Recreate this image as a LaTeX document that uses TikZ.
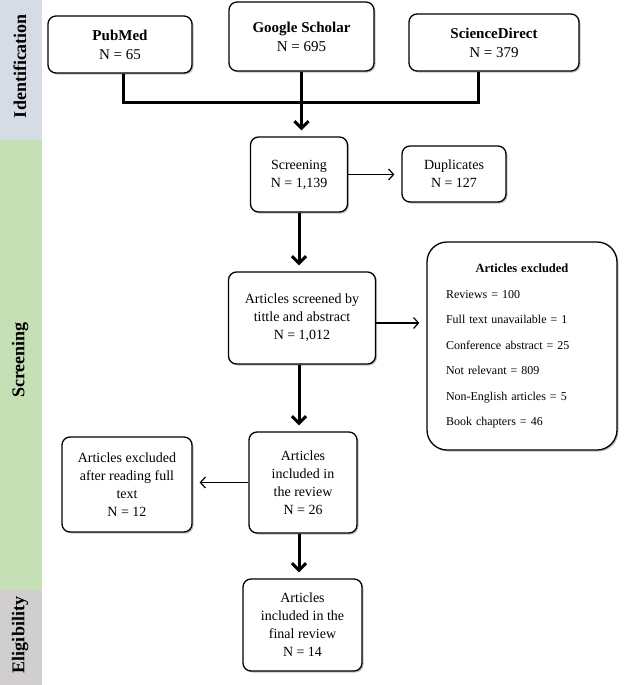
\documentclass[tikz,border=0pt]{standalone}
\usepackage{fontspec}
\setmainfont{Liberation Serif}
\usetikzlibrary{arrows.meta,shadows}

\definecolor{idblue}{RGB}{214,220,229}
\definecolor{scrgreen}{RGB}{197,224,180}
\definecolor{eliggray}{RGB}{208,206,206}

\begin{document}
\begin{tikzpicture}[x=1pt, y=-1pt,
    box/.style={draw, line width=1.3pt, rounded corners=8pt, fill=white,
      align=center, inner sep=2pt, font=\fontsize{14}{18}\selectfont,
      drop shadow={shadow xshift=1.5pt, shadow yshift=-1.5pt, opacity=0.5}},
    srcbox/.style={box, font=\fontsize{15}{19}\selectfont},
    trunk/.style={line width=3pt},
    thickarr/.style={line width=3pt, shorten >=6pt,
      -{Straight Barb[length=7pt,width=14pt]}},
    thinarr/.style={line width=1.2pt, shorten >=7pt,
      -{Straight Barb[length=5pt,width=11pt]}},
    band/.style={font=\fontsize{18}{20}\selectfont\bfseries, rotate=90}]
  \useasboundingbox (0,0) rectangle (625,685);

  % side bands
  \fill[idblue] (0,0) rectangle (42,140);
  \fill[scrgreen] (0,140) rectangle (42,590);
  \fill[eliggray] (0,590) rectangle (42,685);
  \node[band] (lid) at (20,66) {Identification};
  \node[band] (lscr) at (20,360) {Screening};
  \node[band] (lelig) at (20,635) {Eligibility};

  % sources
  \node[srcbox, minimum width=144pt, minimum height=57pt] (pub) at (120,44.5)
        {\textbf{PubMed}\\N = 65};
  \node[srcbox, minimum width=145pt, minimum height=69pt] (gs) at (301.5,36.5)
        {\textbf{Google Scholar}\\N = 695};
  \node[srcbox, minimum width=170pt, minimum height=57pt] (sci) at (494,42.5)
        {\textbf{ScienceDirect}\\N = 379};

  % screening column
  \node[box, minimum width=97pt, minimum height=75pt] (scr) at (299,174.5)
        {Screening\\N = 1,139};
  \node[box, minimum width=104pt, minimum height=56pt] (dup) at (454,174)
        {Duplicates\\N = 127};
  \node[box, minimum width=147pt, minimum height=92pt] (scrd) at (302,318)
        {Articles screened by\\tittle and abstract\\N = 1,012};
  \node[box, rounded corners=20pt, minimum width=190pt, minimum height=208pt,
        text width=152pt, align=left, inner sep=0pt,
        font=\fontsize{12}{25.5}\selectfont] (exc) at (522,346)
        {\makebox[\linewidth]{\fontsize{12.5}{15}\selectfont\textbf{Articles excluded}}\\
         Reviews = 100\\
         Full text unavailable = 1\\
         Conference abstract = 25\\
         Not relevant = 809\\
         Non-English articles = 5\\
         Book chapters = 46};
  \node[box, minimum width=108pt, minimum height=101pt] (inc) at (303,482.5)
        {Articles\\included in\\the review\\N = 26};
  \node[box, minimum width=130pt, minimum height=95pt] (full) at (127,484.5)
        {Articles excluded\\after reading full\\text\\N = 12};
  \node[box, minimum width=119pt, minimum height=92pt] (fin) at (302.5,625)
        {Articles\\included in the\\final review\\N = 14};

  % connectors
  \coordinate (join) at (301.5,102);
  \draw[trunk] ([xshift=3pt]pub.south) |- (join);
  \draw[trunk] ([xshift=-16pt]sci.south) |- (join);
  \draw[thickarr] (gs.south) -- (gs.south |- scr.north);
  \draw[thickarr] (scr.south) -- (scr.south |- scrd.north);
  \draw[thickarr] (scrd.south -| scr.south) -- (scr.south |- inc.north);
  \draw[thickarr] (inc.south -| scr.south) -- (scr.south |- fin.north);
  \draw[thinarr] (scr.east) -- (scr.east -| dup.west);
  \draw[thinarr] ([yshift=-5pt]scrd.east) -- ([yshift=-5pt]scrd.east -| exc.west);
  \draw[thinarr] (inc.west) -- (inc.west -| full.east);
\end{tikzpicture}
\end{document}
